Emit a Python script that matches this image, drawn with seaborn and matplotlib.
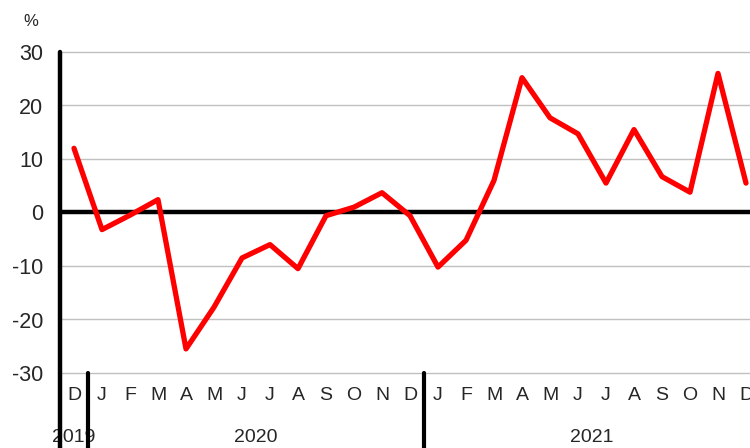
import numpy as np
import pandas as pd
import matplotlib
matplotlib.use("Agg")
import matplotlib.pyplot as plt
import seaborn as sns

months = ["D", "J", "F", "M", "A", "M", "J", "J", "A", "S", "O", "N", "D",
          "J", "F", "M", "A", "M", "J", "J", "A", "S", "O", "N", "D"]
values = [12.0, -3.2, -0.5, 2.4, -25.5, -17.7, -8.5, -6.0, -10.5, -0.6, 1.0, 3.7, -0.6,
          -10.2, -5.2, 6.0, 25.2, 17.7, 14.7, 5.5, 15.5, 6.7, 3.8, 26.0, 5.5]
years = ["2019", "2020", "2021"]
year_spans = [(0, 0), (1, 12), (13, 24)]
yticks = [-30, -20, -10, 0, 10, 20, 30]

df = pd.DataFrame({"idx": np.arange(len(values)), "value": values})

sns.set_style("white")
plt.rcParams["font.family"] = ["Liberation Sans", "DejaVu Sans"]

fig = plt.figure(figsize=(7.5, 4.48), dpi=100)
ax = fig.add_axes([60 / 750, 1 - 373 / 448, 700 / 750, 321 / 448])

for y in yticks:
    ax.axhline(y, color="#c0c0c0", lw=1.0, zorder=1, clip_on=False)
ax.axhline(0, color="black", lw=3.2, zorder=2)

sns.lineplot(data=df, x="idx", y="value", color="#ff0000", lw=3.8, ax=ax, zorder=3)

ax.set_xlim(-0.5, len(values) - 0.5)
ax.set_ylim(-30, 30)
ax.set_yticks(yticks)
ax.set_yticklabels([str(t) for t in yticks], fontsize=15.5)
ax.set_xticks(df["idx"])
ax.set_xticklabels(months, fontsize=14)
ax.tick_params(axis="x", length=0, pad=10)
ax.tick_params(axis="y", length=5, width=3, pad=7, direction="out", color="black")
ax.set_xlabel("")
ax.set_ylabel("")

for s in ["top", "right", "bottom", "left"]:
    ax.spines[s].set_visible(False)

# left axis line and year separators running down through the label area
ax.axvline(-0.5, ymin=-0.24, ymax=1.0, color="black", lw=3.2, clip_on=False, zorder=4)
ax.axvline(0.5, ymin=-0.24, ymax=0.0, color="black", lw=3.0, clip_on=False, zorder=4)
ax.axvline(12.5, ymin=-0.24, ymax=0.0, color="black", lw=3.0, clip_on=False, zorder=4)

trans = ax.get_xaxis_transform()
for name, (a, b) in zip(years, year_spans):
    ax.text((a + b) / 2, -0.2, name, transform=trans, ha="center", va="center",
            fontsize=14, clip_on=False)

fig.text(31 / 750, 1 - 22 / 448, "%", ha="center", va="center", fontsize=12)

fig.savefig("out.png", dpi=100)
